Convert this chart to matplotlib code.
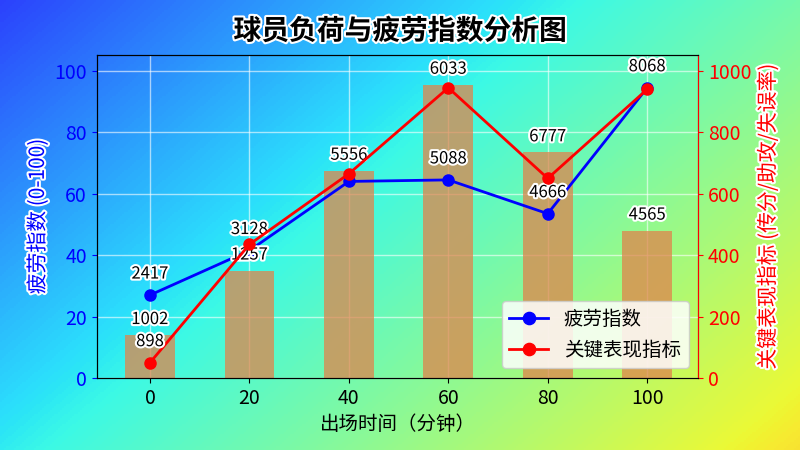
import numpy as np
import matplotlib
matplotlib.use("Agg")
import matplotlib.pyplot as plt
import matplotlib.patheffects as pe

plt.rcParams['font.family'] = ['Noto Sans CJK SC', 'DejaVu Sans']

minutes = [0, 20, 40, 60, 80, 100]
load_bars = [14, 35, 67.5, 95.5, 73.5, 48]
bar_labels = [1002, 1257, 5556, 6033, 6777, 4565]
fatigue = [27, 41.5, 64, 64.5, 53.5, 94.5]
fatigue_labels = [2417, 3128, None, 5088, 4666, 8068]
kpi = [50, 435, 665, 945, 650, 940]
kpi_labels = [898, None, None, None, None, None]

fig = plt.figure(figsize=(8, 4.5), dpi=100)
bg = fig.add_axes([0, 0, 1, 1], zorder=-10)
xx, yy = np.meshgrid(np.linspace(0, 1, 400), np.linspace(1, 0, 225))
t = 0.15 + 0.52 * (0.6 * xx + 0.4 * (1 - yy))
rgb = plt.get_cmap('jet')(t)[..., :3]
rgb = rgb * 0.8 + 0.2 * np.array([0.85, 0.9, 0.95])
bg.imshow(rgb, aspect='auto', extent=[0, 1, 0, 1])
bg.axis('off')

stroke = [pe.withStroke(linewidth=3, foreground='white')]
ax = fig.add_axes([0.121, 0.16, 0.752, 0.718])
ax.patch.set_alpha(0)
ax.bar(minutes, load_bars, width=10, color='#e0844c', alpha=0.75, zorder=2)
ax.grid(True, color='white', alpha=0.6, linewidth=1, zorder=0)
l1, = ax.plot(minutes, fatigue, color='blue', marker='o', markersize=8, linewidth=2, label='疲劳指数', zorder=4)
ax.set_xlim(-10.7, 110.3)
ax.set_ylim(0, 105.2)
ax.set_xticks(minutes)
ax.set_yticks([0, 20, 40, 60, 80, 100])
ax.tick_params(axis='y', colors='blue', labelsize=14)
ax.tick_params(axis='x', labelsize=14)
ax.set_xlabel('出场时间（分钟）', fontsize=14)
ax.set_ylabel('疲劳指数 (0-100)', fontsize=15, color='blue', path_effects=stroke)

ax2 = ax.twinx()
l2, = ax2.plot(minutes, kpi, color='red', marker='o', markersize=8, linewidth=2, label='关键表现指标', zorder=5)
ax2.set_ylim(0, 1052)
ax2.set_yticks([0, 200, 400, 600, 800, 1000])
ax2.tick_params(axis='y', colors='red', labelsize=14)
ax2.spines['right'].set_color('red')
ax2.set_ylabel('关键表现指标 (传分/助攻/失误率)', fontsize=15, color='red', path_effects=stroke)

for x, h, lab in zip(minutes, load_bars, bar_labels):
    ax.annotate(str(lab), (x, h), xytext=(0, 5), textcoords='offset points', ha='center', va='bottom',
                fontsize=12, path_effects=stroke, zorder=6)
for x, h, lab in zip(minutes, fatigue, fatigue_labels):
    if lab is not None:
        ax.annotate(str(lab), (x, h), xytext=(0, 9), textcoords='offset points', ha='center', va='bottom',
                    fontsize=12, path_effects=stroke, zorder=6)
for x, h, lab in zip(minutes, kpi, kpi_labels):
    if lab is not None:
        ax2.annotate(str(lab), (x, h), xytext=(0, 9), textcoords='offset points', ha='center', va='bottom',
                     fontsize=12, path_effects=stroke, zorder=6)

ax2.legend([l1, l2], ['疲劳指数', '关键表现指标'], loc='lower right', fontsize=14, framealpha=0.85,
           markerscale=1.1)
fig.text(0.5, 0.93, '球员负荷与疲劳指数分析图', ha='center', va='center', fontsize=20, fontweight='bold',
         path_effects=stroke)
fig.savefig('out.png', dpi=100)
